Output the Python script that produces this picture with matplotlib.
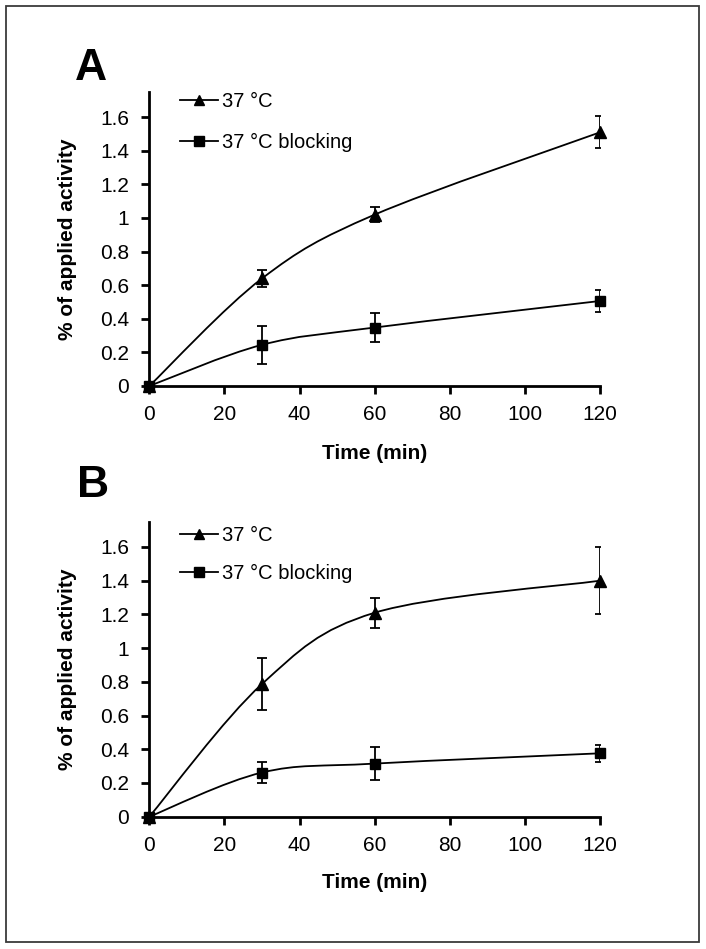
import numpy as np
import matplotlib
matplotlib.use('Agg')
import matplotlib.pyplot as plt
from matplotlib.path import Path
from matplotlib.patches import PathPatch, Rectangle
from matplotlib.lines import Line2D

plt.rcParams['font.family'] = ['Liberation Sans', 'DejaVu Sans']

# ---------------- data ----------------
time = [0, 30, 60, 120]
series_labels = ["37 °C", "37 °C blocking"]

a_37 = [0, 0.64, 1.02, 1.51]
a_37_err = [0, 0.05, 0.045, 0.095]
a_blk = [0, 0.245, 0.348, 0.506]
a_blk_err = [0, 0.115, 0.085, 0.066]

b_37 = [0, 0.787, 1.21, 1.40]
b_37_err = [0, 0.155, 0.09, 0.20]
b_blk = [0, 0.262, 0.315, 0.376]
b_blk_err = [0, 0.064, 0.10, 0.05]

xticks = [0, 20, 40, 60, 80, 100, 120]
yticks = [0, 0.2, 0.4, 0.6, 0.8, 1.0, 1.2, 1.4, 1.6]
ytick_labels = ["0", "0.2", "0.4", "0.6", "0.8", "1", "1.2", "1.4", "1.6"]
panel_letters = ["A", "B"]
xlabel = "Time (min)"
ylabel = "% of applied activity"

# ---------------- drawing ----------------
W, H = 706, 949
fig = plt.figure(figsize=(W / 100, H / 100), dpi=100)


def smooth_path(x, y, t=1 / 6):
    pts = np.column_stack([x, y]).astype(float)
    n = len(pts)
    verts = [pts[0]]
    codes = [Path.MOVETO]
    for i in range(n - 1):
        p0 = pts[max(i - 1, 0)]
        p1 = pts[i]
        p2 = pts[i + 1]
        p3 = pts[min(i + 2, n - 1)]
        c1 = p1 + (p2 - p0) * t
        c2 = p2 - (p3 - p1) * t
        verts += [c1, c2, p2]
        codes += [Path.CURVE4] * 3
    return Path(verts, codes)


def px_rect(left, top, right, bottom):
    return [left / W, 1 - bottom / H, (right - left) / W, (bottom - top) / H]


def draw_panel(ax, s1, e1, s2, e2, leg_y, spacing):
    for vals, errs, mk, ms in [(s1, e1, '^', 8.5), (s2, e2, 's', 7)]:
        ax.add_patch(PathPatch(smooth_path(time, vals), fill=False,
                               edgecolor='black', lw=1.3, zorder=3))
        ax.errorbar(time, vals, yerr=errs, fmt='none', ecolor='black',
                    elinewidth=1.3, capsize=3.5, capthick=1.3, zorder=3)
        ax.plot(time, vals, ls='none', marker=mk, ms=ms, color='black',
                clip_on=False, zorder=4)
    ax.set_xlim(0, 120)
    ax.set_ylim(0, 1.75)
    ax.set_xticks(xticks)
    ax.set_xticklabels([str(v) for v in xticks])
    ax.set_yticks(yticks)
    ax.set_yticklabels(ytick_labels)
    for side in ['top', 'right']:
        ax.spines[side].set_visible(False)
    for side in ['left', 'bottom']:
        ax.spines[side].set_linewidth(2.0)
        ax.spines[side].set_color('black')
    ax.tick_params(axis='both', direction='out', length=6, width=2,
                   labelsize=15, colors='black')
    ax.tick_params(axis='x', pad=8)
    ax.tick_params(axis='y', pad=8.5)
    handles = [
        Line2D([], [], color='black', lw=1.3, marker='^', ms=7),
        Line2D([], [], color='black', lw=1.3, marker='s', ms=6.5),
    ]
    ax.legend(handles, series_labels, loc='upper left',
              bbox_to_anchor=(0.068, leg_y), frameon=False, fontsize=14.5,
              handlelength=1.9, handletextpad=0.2, labelspacing=spacing,
              borderpad=0, borderaxespad=0)


axA = fig.add_axes(px_rect(149.3, 92, 600, 386))
draw_panel(axA, a_37, a_37_err, a_blk, a_blk_err, 1.0, 1.1)
axB = fig.add_axes(px_rect(149.3, 521.7, 600, 816.7))
draw_panel(axB, b_37, b_37_err, b_blk, b_blk_err, 0.985, 0.95)

# axis labels
for ax, xl_y in [(axA, 454), (axB, 883)]:
    pos = ax.get_position()
    fig.text(374.5 / W, 1 - xl_y / H, xlabel, ha='center', va='center',
             fontsize=15, fontweight='bold')
    fig.text(67.5 / W, pos.y0 + pos.height / 2, ylabel, ha='center',
             va='center', rotation=90, fontsize=15, fontweight='bold')

# panel letters
fig.text(75 / W, 1 - 80 / H, panel_letters[0], ha='left', va='baseline',
         fontsize=32, fontweight='bold')
fig.text(77 / W, 1 - 497 / H, panel_letters[1], ha='left', va='baseline',
         fontsize=32, fontweight='bold')

# outer frame
fig.add_artist(Rectangle((6 / W, 1 - 942 / H), (699 - 6) / W, (942 - 6) / H,
                         transform=fig.transFigure, fill=False,
                         edgecolor='#3a3a3a', lw=1.3))

fig.savefig('out.png', dpi=100)
